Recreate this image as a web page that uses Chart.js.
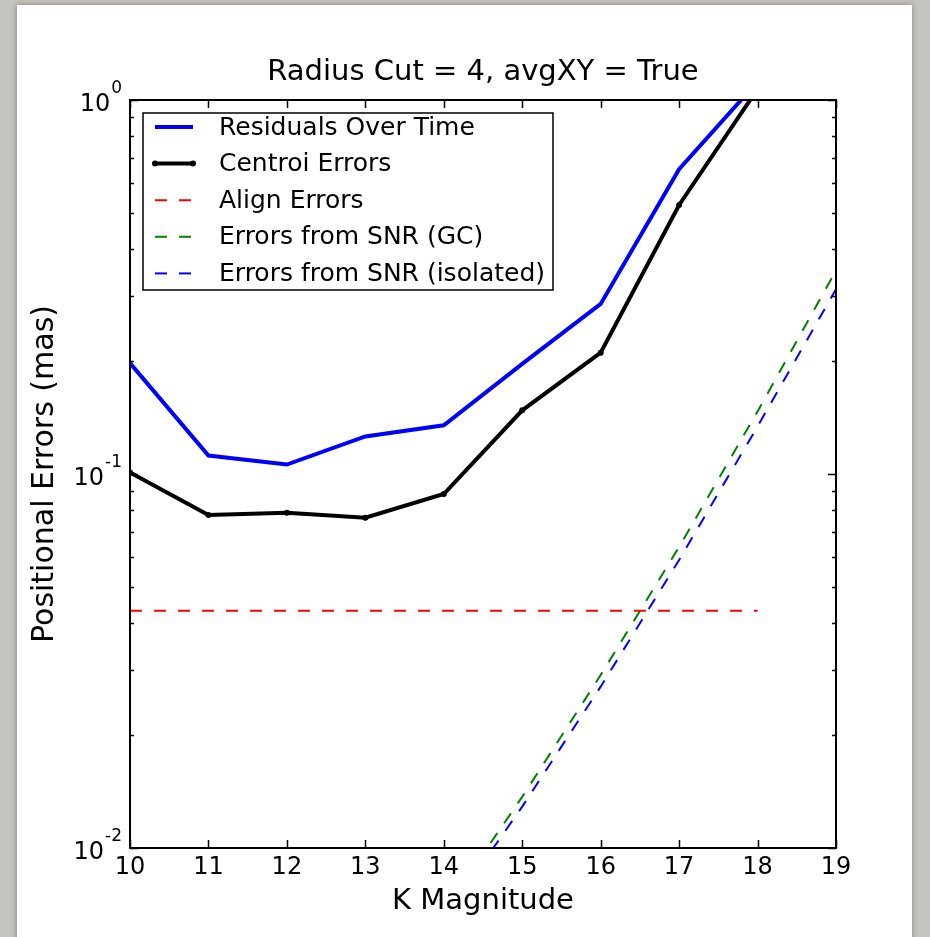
<!DOCTYPE html>
<html>
<head>
<meta charset="utf-8">
<script src="https://cdn.jsdelivr.net/npm/chart.js@4.4.1/dist/chart.umd.min.js"></script>
<style>
  html, body { margin: 0; padding: 0; }
  body { width: 930px; height: 937px; background: #c6c4bf; position: relative; overflow: hidden; }
  #paper { position: absolute; left: 17px; top: 5px; width: 895px; height: 940px; background: #fff; box-shadow: 0 0 6px rgba(0,0,0,0.35); }
  #plot { position: absolute; left: 0; top: 0; }
</style>
</head>
<body>
<div id="paper"></div>
<canvas id="plot" width="930" height="937"></canvas>
<script>
// magnitudes of the measured bins
const magnitudes = [10, 11, 12, 13, 14, 15, 16, 17, 18];
const residuals = [0.198, 0.112, 0.106, 0.126, 0.135, 0.197, 0.285, 0.653, 1.12];
const centroidErrors = [0.101, 0.0777, 0.0788, 0.0764, 0.0884, 0.148, 0.211, 0.524, 1.07];
const alignErrors = [0.0431, 0.0431, 0.0431, 0.0431, 0.0431, 0.0431, 0.0431, 0.0431, 0.0431];

// SNR based error curves
const snrMagnitudes = [13, 14, 15, 16, 17, 18, 19];
const snrGC = [0.00349, 0.00678, 0.0137, 0.0290, 0.0638, 0.147, 0.350];
const snrIsolated = [0.00335, 0.00646, 0.0129, 0.0270, 0.0589, 0.134, 0.312];

// axis ticks
const xTicks = [10, 11, 12, 13, 14, 15, 16, 17, 18, 19];
const yTickExponents = [-2, -1, 0];
const yMinorMultipliers = [2, 3, 4, 5, 6, 7, 8, 9];

const FONT = '"DejaVu Sans", "Liberation Sans", sans-serif';

function toPoints(xs, ys) {
    return xs.map((v, i) => ({ x: v, y: ys[i] }));
}

//plugin drawing the frame, inward ticks, labels, title and legend
const axesDecor = {
    id: 'axesDecor',
    afterDraw(chart) {
        const ctx = chart.ctx;
        const a = chart.chartArea;
        const xs = chart.scales.x;
        const ys = chart.scales.y;
        ctx.save();

        // ticks (pointing inwards on all four sides)
        ctx.strokeStyle = '#000';
        ctx.lineWidth = 1.5;
        ctx.beginPath();
        xTicks.forEach(v => {
            const px = Math.round(xs.getPixelForValue(v)) + 0.5;
            ctx.moveTo(px, a.bottom); ctx.lineTo(px, a.bottom - 8);
            ctx.moveTo(px, a.top); ctx.lineTo(px, a.top + 8);
        });
        yTickExponents.forEach(e => {
            const py = Math.round(ys.getPixelForValue(Math.pow(10, e))) + 0.5;
            ctx.moveTo(a.left, py); ctx.lineTo(a.left + 8, py);
            ctx.moveTo(a.right, py); ctx.lineTo(a.right - 8, py);
        });
        yTickExponents.slice(0, -1).forEach(e => {
            yMinorMultipliers.forEach(m => {
                const py = Math.round(ys.getPixelForValue(m * Math.pow(10, e))) + 0.5;
                ctx.moveTo(a.left, py); ctx.lineTo(a.left + 4, py);
                ctx.moveTo(a.right, py); ctx.lineTo(a.right - 4, py);
            });
        });
        ctx.stroke();

        // frame
        ctx.lineWidth = 2;
        ctx.strokeRect(a.left, a.top, a.right - a.left, a.bottom - a.top);

        // x tick labels
        ctx.fillStyle = '#000';
        ctx.font = '24px ' + FONT;
        ctx.textAlign = 'center';
        ctx.textBaseline = 'middle';
        xTicks.forEach(v => {
            ctx.fillText(String(v), xs.getPixelForValue(v), a.bottom + 20);
        });

        // y tick labels with superscript exponents
        yTickExponents.forEach(e => {
            const py = ys.getPixelForValue(Math.pow(10, e));
            const sup = String(e);
            ctx.font = '17px ' + FONT;
            const supW = ctx.measureText(sup).width;
            ctx.textAlign = 'right';
            ctx.textBaseline = 'middle';
            ctx.fillText(sup, a.left - 8, py - 11);
            ctx.font = '24px ' + FONT;
            ctx.fillText('10', a.left - 9 - supW, py + 5);
        });

        // title and axis titles
        const midX = (a.left + a.right) / 2;
        ctx.font = '29px ' + FONT;
        ctx.textAlign = 'center';
        ctx.textBaseline = 'middle';
        ctx.fillText('Radius Cut = 4, avgXY = True', midX, 72);
        ctx.fillText('K Magnitude', midX, 901);
        ctx.save();
        ctx.translate(45, (a.top + a.bottom) / 2);
        ctx.rotate(-Math.PI / 2);
        ctx.font = '30px ' + FONT;
        ctx.fillText('Positional Errors (mas)', 0, 0);
        ctx.restore();

        // legend box
        const lx = 143, ly = 113, lw = 410, lh = 177;
        ctx.fillStyle = '#fff';
        ctx.fillRect(lx, ly, lw, lh);
        ctx.lineWidth = 1.5;
        ctx.strokeStyle = '#000';
        ctx.strokeRect(lx, ly, lw, lh);
        ctx.font = '25px ' + FONT;
        ctx.textAlign = 'left';
        chart.data.datasets.forEach((ds, i) => {
            const rowY = 127 + i * 36.6;
            ctx.strokeStyle = ds.borderColor;
            ctx.lineWidth = ds.borderWidth;
            ctx.setLineDash(ds.borderDash || []);
            ctx.beginPath();
            ctx.moveTo(155, rowY);
            ctx.lineTo(193, rowY);
            ctx.stroke();
            ctx.setLineDash([]);
            if (ds.pointRadius > 0) {
                ctx.fillStyle = ds.borderColor;
                [155, 193].forEach(px => {
                    ctx.beginPath();
                    ctx.arc(px, rowY, ds.pointRadius, 0, Math.PI * 2);
                    ctx.fill();
                });
            }
            ctx.fillStyle = '#000';
            ctx.fillText(ds.label, 219, rowY + 1);
        });
        ctx.restore();
    }
};

new Chart(document.getElementById('plot'), {
    type: 'line',
    data: {
        datasets: [{
            label: 'Residuals Over Time',
            data: toPoints(magnitudes, residuals),
            borderColor: '#0000ff',
            borderWidth: 4,
            pointRadius: 0,
            order: 5
        }, {
            label: 'Centroi Errors',
            data: toPoints(magnitudes, centroidErrors),
            borderColor: '#000000',
            backgroundColor: '#000000',
            borderWidth: 4,
            pointRadius: 3,
            pointBorderWidth: 0,
            order: 4
        }, {
            label: 'Align Errors',
            data: toPoints(magnitudes, alignErrors),
            borderColor: '#ff0000',
            borderWidth: 2,
            borderDash: [12, 12],
            pointRadius: 0,
            order: 3
        }, {
            label: 'Errors from SNR (GC)',
            data: toPoints(snrMagnitudes, snrGC),
            borderColor: '#008000',
            borderWidth: 2,
            borderDash: [12, 12],
            pointRadius: 0,
            order: 2
        }, {
            label: 'Errors from SNR (isolated)',
            data: toPoints(snrMagnitudes, snrIsolated),
            borderColor: '#0000ff',
            borderWidth: 2,
            borderDash: [12, 12],
            pointRadius: 0,
            order: 1
        }]
    },
    options: {
        responsive: false,
        devicePixelRatio: 1,
        animation: false,
        events: [],
        layout: {
            padding: { left: 130, top: 100, right: 94, bottom: 89 }
        },
        datasets: {
            line: { clip: 0, tension: 0, fill: false }
        },
        scales: {
            x: { type: 'linear', min: 10, max: 19, display: false },
            y: { type: 'logarithmic', min: 0.01, max: 1, display: false }
        },
        plugins: {
            legend: { display: false },
            tooltip: { enabled: false }
        }
    },
    plugins: [axesDecor]
});
</script>
</body>
</html>
